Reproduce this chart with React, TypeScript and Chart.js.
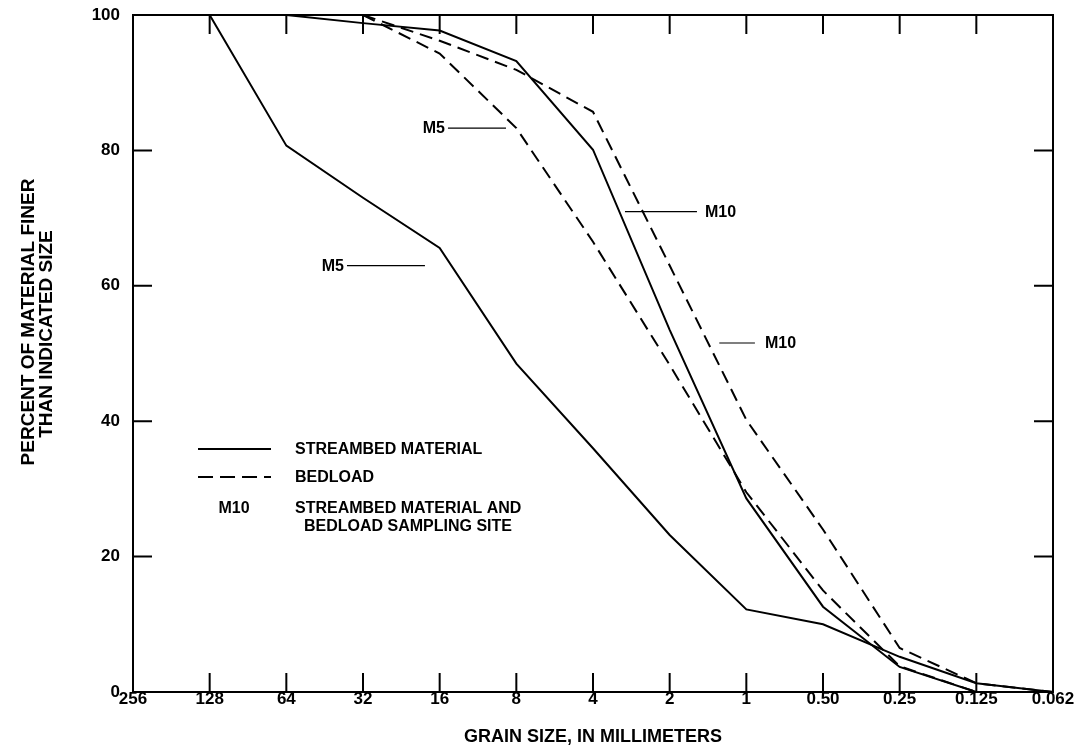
import React, { useEffect, useRef } from "react";
import { Chart, registerables } from "chart.js";

Chart.register(...registerables);

// Grain-size sieve classes (mm), equally spaced on a log2 axis
const grainSizes = ["256", "128", "64", "32", "16", "8", "4", "2", "1", "0.50", "0.25", "0.125", "0.062"];
const percentTicks = [0, 20, 40, 60, 80, 100];

// Percent of material finer than indicated size
const m5Streambed = [null, 100, 80.7, 73, 65.6, 48.5, 36, 23.2, 12.2, 10, 5.2, 1.3, 0];
const m10Streambed = [null, null, 100, 98.8, 97.7, 93.2, 80.1, 53.5, 28.6, 12.6, 3.7, 0, null];
const m5Bedload = [null, null, null, 100, 94.3, 83.3, 66.5, 48.3, 29.5, 15, 3.8, 0, null];
const m10Bedload = [null, null, null, 100, 96.2, 91.9, 85.7, 63, 40.2, 24, 6.5, 1.3, 0];

const FONT = "'Liberation Sans', Arial, Helvetica, sans-serif";

const toPoints = (vals: (number | null)[]) => vals.map((v, i) => ({ x: i, y: v }));

export default function App() {
  const ref = useRef<HTMLCanvasElement>(null);

  useEffect(() => {
    if (!ref.current) return;

    const framePlugin = {
      id: "frame",
      afterDraw(chart: any) {
        const { ctx, chartArea: a, scales } = chart;
        const xs = scales.x;
        const ys = scales.y;
        const px = (v: number) => xs.getPixelForValue(v);
        const py = (v: number) => ys.getPixelForValue(v);
        ctx.save();
        ctx.strokeStyle = "#000";
        ctx.fillStyle = "#000";
        // frame
        ctx.lineWidth = 2;
        ctx.strokeRect(a.left, a.top, a.right - a.left, a.bottom - a.top);
        // inward ticks
        const tl = 19;
        ctx.beginPath();
        for (let i = 1; i < grainSizes.length - 1; i++) {
          const x = px(i);
          ctx.moveTo(x, a.bottom);
          ctx.lineTo(x, a.bottom - tl);
          ctx.moveTo(x, a.top);
          ctx.lineTo(x, a.top + tl);
        }
        percentTicks.slice(1, -1).forEach((v) => {
          const y = py(v);
          ctx.moveTo(a.left, y);
          ctx.lineTo(a.left + tl, y);
          ctx.moveTo(a.right, y);
          ctx.lineTo(a.right - tl, y);
        });
        ctx.stroke();

        // Y-axis title (two lines, rotated)
        ctx.font = `bold 19px ${FONT}`;
        ctx.textAlign = "center";
        ctx.textBaseline = "middle";
        ctx.save();
        ctx.translate(29, 322);
        ctx.rotate(-Math.PI / 2);
        ctx.fillText("PERCENT OF MATERIAL FINER", 0, 0);
        ctx.restore();
        ctx.save();
        ctx.translate(47, 334);
        ctx.rotate(-Math.PI / 2);
        ctx.fillText("THAN INDICATED SIZE", 0, 0);
        ctx.restore();

        // Site labels with leader lines (positions in data units)
        const siteLabels = [
          { text: "M5", y: 83.3, x0: 4.108, x1: 4.865, textAt: 4.069, side: "left" },
          { text: "M10", y: 70.95, x0: 6.417, x1: 7.356, textAt: 7.461, side: "right" },
          { text: "M10", y: 51.55, x0: 7.647, x1: 8.112, textAt: 8.243, side: "right" },
          { text: "M5", y: 62.97, x0: 2.791, x1: 3.808, textAt: 2.752, side: "left" },
        ];
        ctx.font = `bold 16px ${FONT}`;
        ctx.lineWidth = 1.2;
        siteLabels.forEach((l) => {
          const y = py(l.y);
          ctx.beginPath();
          ctx.moveTo(px(l.x0), y);
          ctx.lineTo(px(l.x1), y);
          ctx.stroke();
          ctx.textAlign = l.side === "left" ? "right" : "left";
          ctx.fillText(l.text, px(l.textAt), y + 1);
        });

        // Legend
        ctx.lineWidth = 2;
        ctx.beginPath();
        ctx.moveTo(px(0.848), py(35.89));
        ctx.lineTo(px(1.8), py(35.89));
        ctx.stroke();
        ctx.setLineDash([15, 7]);
        ctx.beginPath();
        ctx.moveTo(px(0.848), py(31.76));
        ctx.lineTo(px(1.8), py(31.76));
        ctx.stroke();
        ctx.setLineDash([]);
        ctx.textAlign = "left";
        ctx.fillText("STREAMBED MATERIAL", px(2.113), py(35.89) + 1);
        ctx.fillText("BEDLOAD", px(2.113), py(31.76) + 1);
        ctx.fillText("STREAMBED MATERIAL AND", px(2.113), py(27.18) + 1);
        ctx.fillText("BEDLOAD SAMPLING SITE", px(2.23), py(24.52) + 1);
        ctx.textAlign = "center";
        ctx.fillText("M10", px(1.317), py(27.18) + 1);
        ctx.restore();
      },
    };

    const lineStyle = (dashed: boolean) => ({
      borderColor: "#000",
      backgroundColor: "#000",
      borderWidth: 2,
      pointRadius: 0,
      tension: 0,
      fill: false,
      borderDash: dashed ? [13, 7] : [],
      spanGaps: false,
    });

    const chart = new Chart(ref.current, {
      type: "line",
      data: {
        datasets: [
          { label: "M5 streambed material", data: toPoints(m5Streambed), ...lineStyle(false) },
          { label: "M10 streambed material", data: toPoints(m10Streambed), ...lineStyle(false) },
          { label: "M5 bedload", data: toPoints(m5Bedload), ...lineStyle(true) },
          { label: "M10 bedload", data: toPoints(m10Bedload), ...lineStyle(true) },
        ] as any,
      },
      options: {
        animation: false,
        responsive: false,
        maintainAspectRatio: false,
        layout: { padding: { left: 8, top: 15, right: 33, bottom: 0 } },
        plugins: {
          legend: { display: false },
          tooltip: { enabled: false },
        },
        scales: {
          x: {
            type: "linear",
            min: 0,
            max: grainSizes.length - 1,
            afterFit: (s: any) => {
              s.height = 60;
              s.paddingLeft = 0;
              s.paddingRight = 0;
            },
            afterBuildTicks: (s: any) => {
              s.ticks = grainSizes.map((_, i) => ({ value: i }));
            },
            grid: { display: false, drawTicks: false },
            border: { display: false },
            ticks: {
              autoSkip: false,
              maxRotation: 0,
              padding: -3,
              color: "#000",
              font: { family: FONT, size: 17, weight: "bold" },
              callback: (v: any) => grainSizes[Math.round(Number(v))],
            },
            title: {
              display: true,
              text: "GRAIN SIZE, IN MILLIMETERS",
              color: "#000",
              font: { family: FONT, size: 18, weight: "bold" },
              padding: { top: 0, bottom: 4 },
            },
          },
          y: {
            type: "linear",
            min: 0,
            max: 100,
            afterFit: (s: any) => {
              s.width = 125;
              s.paddingTop = 0;
              s.paddingBottom = 0;
            },
            afterBuildTicks: (s: any) => {
              s.ticks = percentTicks.map((v) => ({ value: v }));
            },
            grid: { display: false, drawTicks: false },
            border: { display: false },
            ticks: {
              padding: 13,
              color: "#000",
              font: { family: FONT, size: 17, weight: "bold" },
            },
          },
        },
      } as any,
      plugins: [framePlugin],
    });

    return () => chart.destroy();
  }, []);

  return (
    <div style={{ position: "absolute", left: 0, top: 0, width: 1086, height: 752, background: "#fff" }}>
      <canvas ref={ref} width={1086} height={752} />
    </div>
  );
}
